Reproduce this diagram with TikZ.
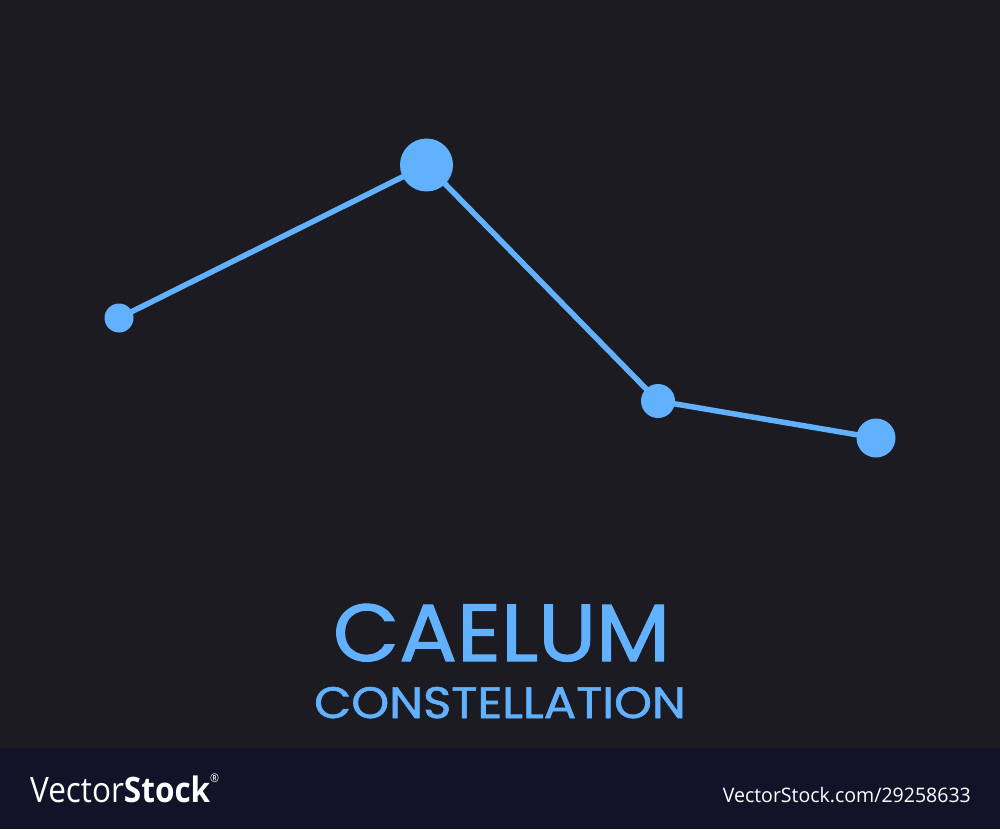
\documentclass[tikz,border=0pt]{standalone}
\usepackage{fontspec}
\newfontfamily\popfont{Poppins}[FakeBold=1.3]
\newfontfamily\vsfont{Open Sans}
\definecolor{bgdark}{HTML}{1C1B21}
\definecolor{barnavy}{HTML}{121328}
\definecolor{starblue}{HTML}{62B1FF}
\pgfdeclarelayer{lines}
\pgfdeclarelayer{bg}
\pgfsetlayers{bg,lines,main}
\tikzset{
  star/.style={circle, fill=starblue, draw=none, inner sep=0pt, minimum size=#1},
  link/.style={draw=starblue, line width=5.5pt},
  title/.style={text=starblue, inner sep=0pt, anchor=base},
  wm/.style={text=white, inner sep=0pt, anchor=base west}
}
\begin{document}
\begin{tikzpicture}[x=1pt,y=-1pt]
\begin{pgfonlayer}{bg}
\fill[bgdark] (0,0) rectangle (1000,829);
\fill[barnavy] (0,748) rectangle (1000,829);
\end{pgfonlayer}
\useasboundingbox (0,0) rectangle (1000,829);
\node[star=29pt] (s1) at (119,318) {};
\node[star=53pt] (s2) at (426.5,165) {};
\node[star=34pt] (s3) at (658,401) {};
\node[star=39pt] (s4) at (876,438) {};
\begin{pgfonlayer}{lines}
\draw[link] (s1.center) -- (s2.center) -- (s3.center) -- (s4.center);
\end{pgfonlayer}
\node[title, xscale=1.06, font=\popfont\fontsize{81}{81}\selectfont] (t1) at (501.5,661) {CAELUM};
\node[title, xscale=1.095, font=\popfont\fontsize{44}{44}\selectfont] (t2) at (500,718) {CONSTELLATION};
\node[wm, xscale=0.9, font=\vsfont\fontsize{35}{35}\selectfont] (w1) at (30,802) {Vector\textbf{Stock}\raisebox{0.55em}{\fontsize{12}{12}\selectfont\textregistered}};
\node[wm, anchor=base east, xscale=0.976, font=\vsfont\fontsize{20}{20}\selectfont] (w2) at (971,802) {VectorStock.com/29258633};
\end{tikzpicture}
\end{document}
